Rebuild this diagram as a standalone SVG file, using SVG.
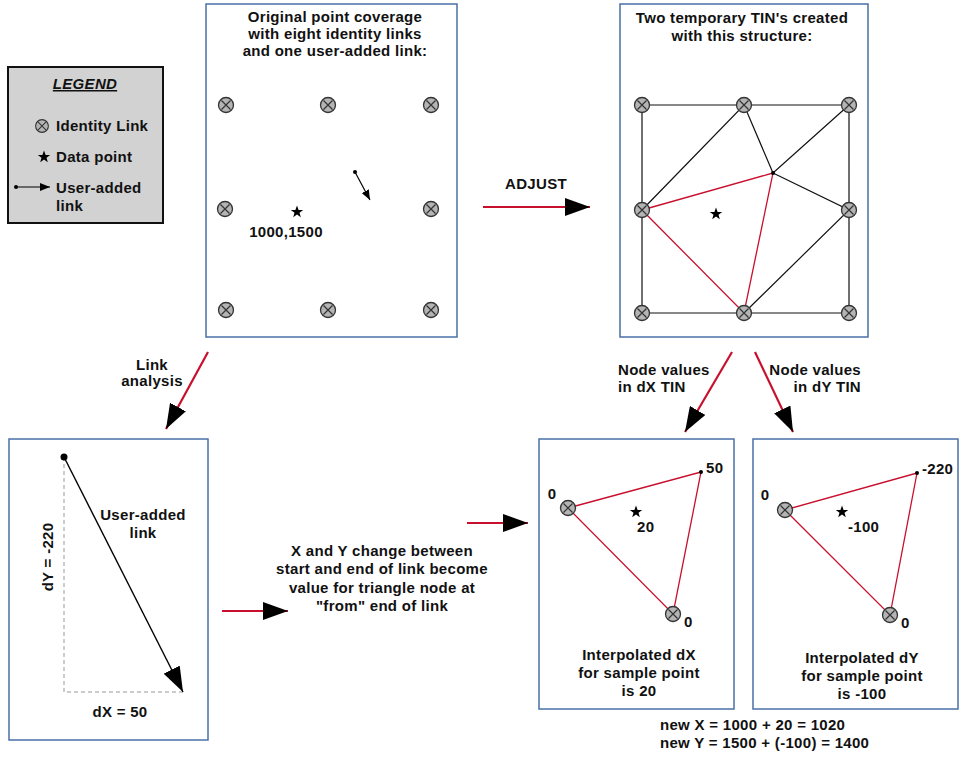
<svg xmlns="http://www.w3.org/2000/svg" width="961" height="759" viewBox="0 0 961 759">
<style>
.t{font-family:"Liberation Sans",Arial,sans-serif;font-weight:bold;font-size:15px;fill:#111;letter-spacing:0.3px}
.c{text-anchor:middle}
.e{text-anchor:end}
.box{fill:#fff;stroke:#4a70a8;stroke-width:1.5}
.blk{stroke:#111;stroke-width:1.2;fill:none}
.red{stroke:#c8102e;stroke-width:1.3;fill:none}
.flow{stroke:#c8102e;stroke-width:2.2;fill:none;marker-end:url(#head)}
.dash{stroke:#999;stroke-width:1;stroke-dasharray:4 3;fill:none}
</style>
<defs>
<marker id="head" markerUnits="userSpaceOnUse" viewBox="0 0 25 18" refX="25" refY="9" markerWidth="25" markerHeight="18" orient="auto">
<path d="M0,0 L25,9 L0,18 Z" fill="#000"/>
</marker>
<marker id="small" markerUnits="userSpaceOnUse" viewBox="0 0 10 8" refX="10" refY="4" markerWidth="10" markerHeight="8" orient="auto">
<path d="M0,0 L10,4 L0,8 Z" fill="#000"/>
</marker>
<g id="idl">
<circle r="7.5" fill="#b4b4b4" stroke="#333" stroke-width="1.3"/>
<path d="M-4.5,-4.5 L4.5,4.5 M-4.5,4.5 L4.5,-4.5" stroke="#333" stroke-width="1.2"/>
</g>
<path id="star" d="M0,-6.5 L1.6,-2 L6.2,-2 L2.5,0.8 L3.8,5.3 L0,2.6 L-3.8,5.3 L-2.5,0.8 L-6.2,-2 L-1.6,-2 Z" fill="#000"/>
</defs>

<g id="legend">
<rect x="8" y="67" width="155" height="156" fill="#d2d2d2" stroke="#111" stroke-width="2"/>
<text class="t c" x="85" y="89" font-style="italic" text-decoration="underline">LEGEND</text>
<use href="#idl" x="42" y="126" transform="translate(42 126) scale(0.85) translate(-42 -126)"/>
<text class="t" x="56" y="131">Identity Link</text>
<use href="#star" x="44" y="157"/>
<text class="t" x="56" y="162">Data point</text>
<circle cx="16" cy="187" r="2" fill="#000"/>
<path d="M16,187 L50,187" stroke="#000" stroke-width="1.2" marker-end="url(#small)"/>
<text class="t" x="56" y="193">User-added</text>
<text class="t" x="56" y="211">link</text>
</g>

<g id="coverage">
<rect class="box" x="206" y="4" width="251" height="333"/>
<text class="t c" x="335" y="22">Original point coverage</text>
<text class="t c" x="335" y="39">with eight identity links</text>
<text class="t c" x="335" y="56">and one user-added link:</text>
<use href="#idl" x="226" y="105"/>
<use href="#idl" x="328" y="105"/>
<use href="#idl" x="431" y="105"/>
<use href="#idl" x="225" y="209"/>
<use href="#idl" x="431" y="209"/>
<use href="#idl" x="226" y="310"/>
<use href="#idl" x="328" y="310"/>
<use href="#idl" x="431" y="310"/>
<use href="#star" x="297" y="212"/>
<text class="t c" x="286" y="237">1000,1500</text>
<circle cx="355" cy="172" r="2" fill="#000"/>
<path d="M355,172 L370,200" stroke="#000" stroke-width="1.2" marker-end="url(#small)"/>
</g>

<g id="tin">
<rect class="box" x="620" y="4" width="248" height="333"/>
<text class="t c" x="742" y="23">Two temporary TIN's created</text>
<text class="t c" x="742" y="41">with this structure:</text>
<path class="blk" d="M642,105 L849,105 L849,313 L642,313 Z M642,210 L744,105 L773,173 L849,105 M773,173 L849,210 L744,313"/>
<path class="red" d="M642,210 L773,173 L744,313 Z"/>
<circle cx="773" cy="173" r="2" fill="#000"/>
<use href="#idl" x="642" y="105"/>
<use href="#idl" x="744" y="105"/>
<use href="#idl" x="849" y="105"/>
<use href="#idl" x="642" y="210"/>
<use href="#idl" x="849" y="210"/>
<use href="#idl" x="642" y="313"/>
<use href="#idl" x="744" y="313"/>
<use href="#idl" x="849" y="313"/>
<use href="#star" x="716" y="214"/>
</g>

<g id="linkbox">
<rect class="box" x="9" y="439" width="199" height="301"/>
<path class="dash" d="M64,457 L64,692 L183,692"/>
<circle cx="64" cy="457" r="3.5" fill="#000"/>
<path d="M64,457 L183,692" stroke="#000" stroke-width="1.4" marker-end="url(#head)"/>
<text class="t c" x="143" y="520">User-added</text>
<text class="t c" x="143" y="538">link</text>
<text class="t c" transform="translate(53 557) rotate(-90)">dY = -220</text>
<text class="t c" x="120" y="717">dX = 50</text>
</g>

<g id="explain">
<text class="t c" x="382" y="556">X and Y change between</text>
<text class="t c" x="382" y="574">start and end of link become</text>
<text class="t c" x="382" y="593">value for triangle node at</text>
<text class="t c" x="382" y="611">"from" end of link</text>
</g>

<g id="dxbox">
<rect class="box" x="539" y="439" width="195" height="270"/>
<path class="red" d="M568,508 L701,472 L673,614 Z"/>
<circle cx="701" cy="472" r="2" fill="#000"/>
<use href="#idl" x="568" y="508"/>
<use href="#idl" x="673" y="614"/>
<text class="t c" x="552" y="499">0</text>
<text class="t" x="706" y="473">50</text>
<text class="t" x="684" y="627">0</text>
<use href="#star" x="636" y="512"/>
<text class="t" x="637" y="532">20</text>
<text class="t c" x="639" y="660">Interpolated dX</text>
<text class="t c" x="639" y="678">for sample point</text>
<text class="t c" x="639" y="696">is 20</text>
</g>

<g id="dybox">
<rect class="box" x="753" y="439" width="205" height="270"/>
<path class="red" d="M785,510 L917,473 L890,615 Z"/>
<circle cx="917" cy="473" r="2" fill="#000"/>
<use href="#idl" x="785" y="510"/>
<use href="#idl" x="890" y="615"/>
<text class="t c" x="765" y="500">0</text>
<text class="t" x="922" y="474">-220</text>
<text class="t" x="901" y="628">0</text>
<use href="#star" x="842" y="512"/>
<text class="t" x="848" y="532">-100</text>
<text class="t c" x="862" y="663">Interpolated dY</text>
<text class="t c" x="862" y="681">for sample point</text>
<text class="t c" x="862" y="699">is -100</text>
</g>

<g id="result">
<text class="t" x="660" y="730">new X = 1000 + 20 = 1020</text>
<text class="t" x="660" y="748">new Y = 1500 + (-100) = 1400</text>
</g>

<g id="connectors">
<path class="flow" d="M483,207 L590,207"/>
<text class="t c" x="536" y="189">ADJUST</text>
<path class="flow" d="M208,352 L166,429"/>
<text class="t c" x="152" y="370">Link</text>
<text class="t c" x="152" y="386">analysis</text>
<path class="flow" d="M732,352 L685,432"/>
<text class="t" x="618" y="375">Node values</text>
<text class="t" x="618" y="392">in dX TIN</text>
<path class="flow" d="M755,352 L793,432"/>
<text class="t e" x="861" y="375">Node values</text>
<text class="t e" x="861" y="392">in dY TIN</text>
<path class="flow" d="M222,611 L288,611"/>
<path class="flow" d="M467,523 L528,523"/>
</g>
</svg>
